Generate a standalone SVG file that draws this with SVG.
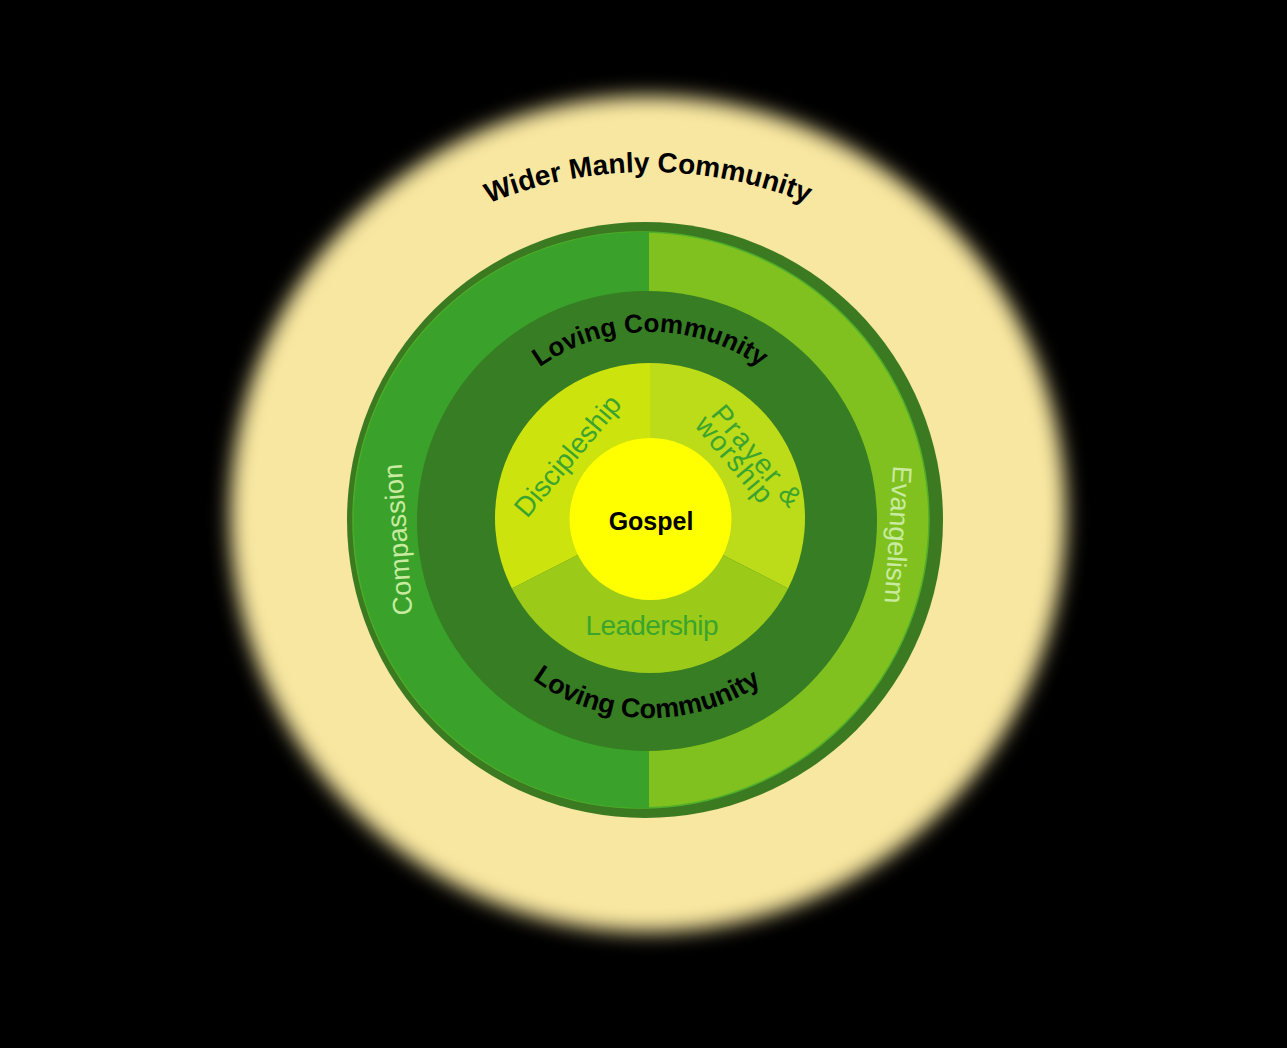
<svg xmlns="http://www.w3.org/2000/svg" width="1287" height="1048" viewBox="0 0 1287 1048">
  <defs>
    <filter id="glow" x="-20%" y="-20%" width="140%" height="140%">
      <feGaussianBlur stdDeviation="10"/>
    </filter>
    <path id="arcWider" d="M 228 592 A 420 420 0 0 1 1068 592"/>
    <path id="arcLoveTop" d="M 460 522 A 190 190 0 0 1 840 522"/>
    <path id="arcLoveBottom" d="M 452 520 A 198 198 0 0 0 848 520"/>
  </defs>
  <style>
    .t { font-family: "Liberation Sans", Arial, sans-serif; }
    .ring-label { font-size: 27px; font-weight: bold; fill: #000000; }
    .side-label { font-size: 27px; fill: #c9eba0; }
    .sector-label { font-size: 28px; fill: #3ba42e; }
  </style>

  <rect x="0" y="0" width="1287" height="1048" fill="#000000"/>

  <g id="wider-community">
    <circle cx="648" cy="514" r="418" fill="#f8e7a0" filter="url(#glow)"/>
    <text class="t ring-label" style="font-size:28px"><textPath href="#arcWider" startOffset="50%" text-anchor="middle">Wider Manly Community</textPath></text>
  </g>

  <g id="outreach">
    <circle cx="645" cy="520" r="298" fill="#3b7a21"/>
    <circle cx="641" cy="520" r="288" fill="#80c11f" stroke="#4fae2a" stroke-width="1.5"/>
    <path d="M 649 232.1 A 288 288 0 1 0 649 807.9 Z" fill="#3aa22a"/>
  </g>

  <g id="compassion">
    <text class="t side-label" transform="translate(407,539) rotate(-94)" text-anchor="middle" textLength="152">Compassion</text>
  </g>

  <g id="evangelism">
    <text class="t side-label" transform="translate(889,534) rotate(93.6)" text-anchor="middle" textLength="138">Evangelism</text>
  </g>

  <g id="loving-community">
    <circle cx="647" cy="521" r="230" fill="#367d23"/>
    <text class="t ring-label" style="font-size:26px"><textPath href="#arcLoveTop" startOffset="50%" text-anchor="middle">Loving Community</textPath></text>
    <text class="t ring-label"><textPath href="#arcLoveBottom" startOffset="49.4%" text-anchor="middle">Loving Community</textPath></text>
  </g>

  <g id="discipleship">
    <path d="M 650 518 L 650 363 A 155 155 0 0 0 511.9 588.4 Z" fill="#cde30e"/>
    <text class="t sector-label" transform="translate(575,462) rotate(-50)" text-anchor="middle" textLength="149">Discipleship</text>
  </g>

  <g id="prayer-worship">
    <path d="M 650 518 L 650 363 A 155 155 0 0 1 788.1 588.4 Z" fill="#bcdb18"/>
    <text class="t sector-label" transform="translate(710,414.5) rotate(50)" textLength="123">Prayer &amp;</text>
    <text class="t sector-label" transform="translate(710,414.5) rotate(50)" x="-2" y="19.5" textLength="104">worship</text>
  </g>

  <g id="leadership">
    <path d="M 650 518 L 788.1 588.4 A 155 155 0 0 1 511.9 588.4 Z" fill="#9bcb18"/>
    <text class="t sector-label" x="652" y="635" text-anchor="middle" textLength="133">Leadership</text>
  </g>

  <g id="gospel">
    <circle cx="650.5" cy="519" r="81" fill="#ffff00"/>
    <text class="t" x="651" y="530" text-anchor="middle" font-size="25" font-weight="bold" fill="#000000">Gospel</text>
  </g>

  <g id="connectors"></g>
</svg>
